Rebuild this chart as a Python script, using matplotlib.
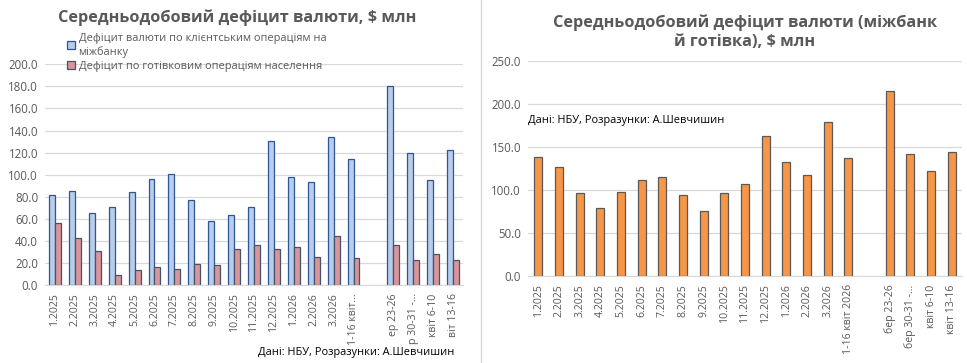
import matplotlib
matplotlib.use("Agg")
import matplotlib.pyplot as plt
import numpy as np
from matplotlib.lines import Line2D
from matplotlib.patches import Patch

plt.rcParams["font.family"] = ["Open Sans", "DejaVu Sans"]

W, H = 967, 363
GRAY = "#595959"

# ---- data -----------------------------------------------------------------
labels_left = ["1.2025", "2.2025", "3.2025", "4.2025", "5.2025", "6.2025",
               "7.2025", "8.2025", "9.2025", "10.2025", "11.2025", "12.2025",
               "1.2026", "2.2026", "3.2026", "1-16 квіт…", "",
               "ер 23-26", "р 30-31 -…", "квіт 6-10", "віт 13-16"]
labels_right = ["1.2025", "2.2025", "3.2025", "4.2025", "5.2025", "6.2025",
                "7.2025", "8.2025", "9.2025", "10.2025", "11.2025", "12.2025",
                "1.2026", "2.2026", "3.2026", "1-16 квіт 2026", "",
                "бер 23-26", "бер 30-31 -…", "квіт 6-10", "квіт 13-16"]

interbank = [82.0, 85.6, 64.8, 71.1, 84.7, 96.5, 100.7, 76.6, 57.6, 63.0,
             71.1, 130.8, 98.3, 92.9, 134.5, 114.6, np.nan,
             180.0, 120.0, 94.7, 122.7]
cash = [55.8, 42.2, 30.4, 8.7, 13.3, 16.0, 14.2, 18.7, 17.8, 32.3,
        35.9, 32.3, 34.1, 25.0, 44.3, 24.1, np.nan,
        35.9, 22.3, 27.7, 22.3]
total = [138.6, 127.0, 95.8, 79.5, 98.1, 112.0, 115.4, 94.6, 74.9, 95.8,
         107.3, 162.9, 132.8, 117.8, 179.2, 137.5, np.nan,
         215.0, 142.1, 122.4, 144.4]

left_ticks = np.arange(0, 201, 20)
right_ticks = np.arange(0, 251, 50)

series_names = ["Дефіцит валюти по клієнтським операціям на\nміжбанку",
                "Дефіцит по готівковим операціям населення"]
source = "Дані: НБУ, Розразунки: А.Шевчишин"


def px_axes(fig, x0, x1, ytop, ybot):
    return fig.add_axes([x0 / W, 1 - ybot / H, (x1 - x0) / W, (ybot - ytop) / H])


def style(ax, ticks, labels):
    ax.set_yticks(ticks)
    ax.set_yticklabels([f"{t:.1f}" for t in ticks], fontsize=8.3, color=GRAY)
    ax.set_ylim(ticks[0], ticks[-1])
    ax.set_xlim(-0.5, len(labels) - 0.5)
    ax.set_xticks(np.arange(len(labels)))
    ax.set_xticklabels(labels, rotation=90, fontsize=7.6, color=GRAY)
    ax.grid(axis="y", color="#D9D9D9", linewidth=0.9)
    ax.set_axisbelow(True)
    for s in ["top", "right", "left"]:
        ax.spines[s].set_visible(False)
    ax.spines["bottom"].set_color("#D9D9D9")
    ax.tick_params(axis="y", length=0, pad=5)
    ax.tick_params(axis="x", length=0, pad=6)


fig = plt.figure(figsize=(W / 100, H / 100), dpi=100)

# ---- left chart -----------------------------------------------------------
ax1 = px_axes(fig, 45, 463, 64.3, 285)
x = np.arange(len(labels_left))
bw = 0.3
ax1.bar(x - bw / 2, interbank, bw, color="#B7CDE9", edgecolor="#2F5597",
        linewidth=0.9)
ax1.bar(x + bw / 2, cash, bw, color="#D9959A", edgecolor="#44546A",
        linewidth=0.9)
style(ax1, left_ticks, labels_left)

fig.text(237 / W, 1 - 18 / H, "Середньодобовий дефіцит валюти, $ млн",
         ha="center", va="center", fontsize=11.7, fontweight="bold", color=GRAY)

handles = [Patch(facecolor="#B7CDE9", edgecolor="#2F5597", linewidth=0.9),
           Patch(facecolor="#D9959A", edgecolor="#44546A", linewidth=0.9)]
leg = fig.legend(handles, series_names,
                 loc="upper left", bbox_to_anchor=(67 / W, 1 - 33 / H),
                 frameon=False, fontsize=7.9, handlelength=0.75,
                 handleheight=0.75, handletextpad=0.3, labelspacing=0.3,
                 borderaxespad=0, borderpad=0)
for t in leg.get_texts():
    t.set_color(GRAY)

fig.text(454 / W, 1 - 353 / H, source, ha="right", va="center",
         fontsize=7.9, color="black")

# separator between the two charts
fig.add_artist(Line2D([481 / W, 481 / W], [0, 1], color="#D9D9D9", linewidth=1))

# ---- right chart ----------------------------------------------------------
ax2 = px_axes(fig, 528, 962, 60.7, 276)
x2 = np.arange(len(labels_right))
ax2.bar(x2, total, 0.39, color="#F79646", edgecolor=GRAY, linewidth=0.9)
style(ax2, right_ticks, labels_right)

fig.text(745 / W, 1 - 32 / H,
         "Середньодобовий дефіцит валюти (міжбанк\nй готівка), $ млн",
         ha="center", va="center", fontsize=11.7, fontweight="bold",
         color=GRAY, linespacing=1.25)
fig.text(528 / W, 1 - 120 / H, source, ha="left", va="center",
         fontsize=7.9, color="black")

fig.savefig("out.png", dpi=100, facecolor="white")
